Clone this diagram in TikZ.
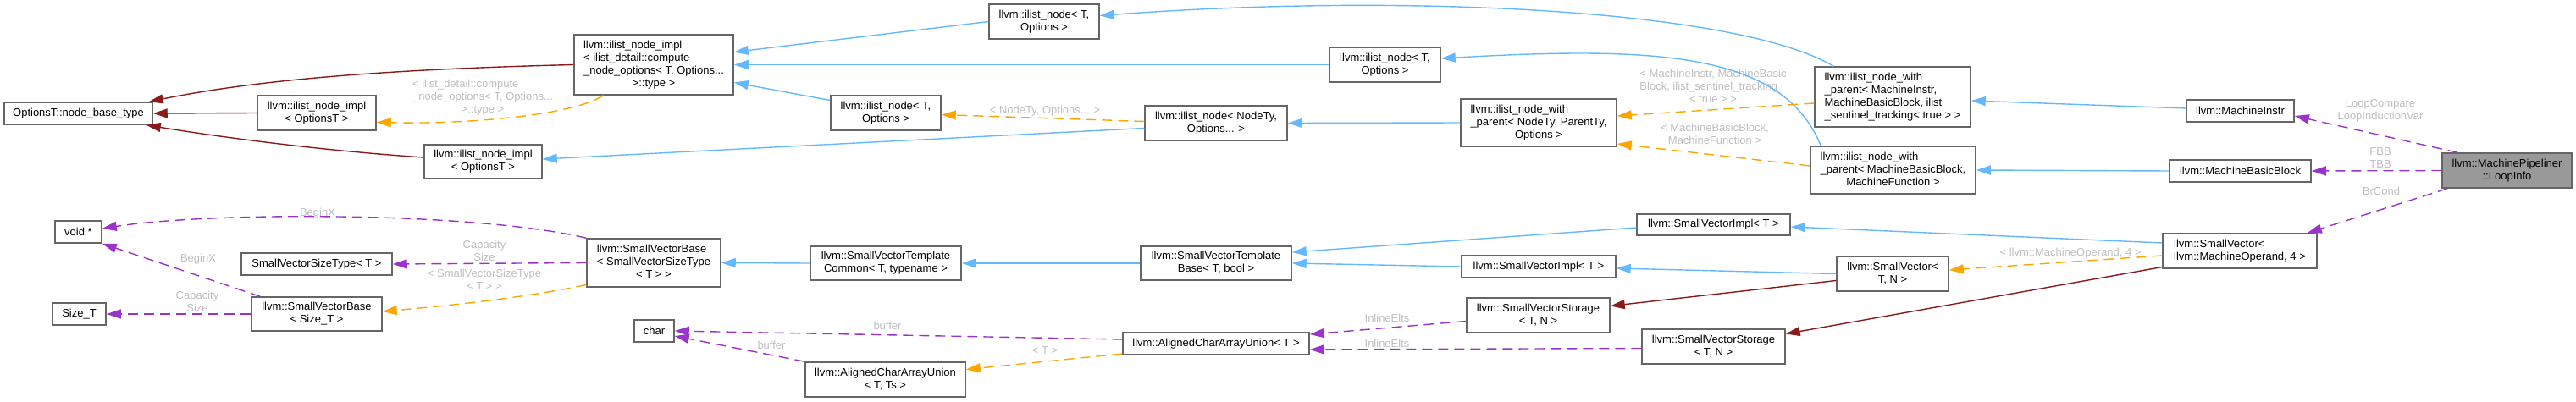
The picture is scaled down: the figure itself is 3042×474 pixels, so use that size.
\documentclass[tikz,border=0pt]{standalone}
\usepackage{fontspec}
\setmainfont{Liberation Sans}
\usetikzlibrary{arrows.meta}

\definecolor{inhblue}{HTML}{63B8FF}
\definecolor{privred}{HTML}{8B1A1A}
\definecolor{tplorange}{HTML}{FFA500}
\definecolor{usepurple}{HTML}{9A32CD}
\definecolor{boxgray}{HTML}{666666}
\definecolor{labelgray}{HTML}{BEBEBE}
\definecolor{mainfill}{HTML}{999999}

% lines left aligned, last line centred
\newcommand{\dxlabel}[2]{\begin{tabular}{@{}l@{}}#1\\\multicolumn{1}{@{}c@{}}{#2}\end{tabular}}

\begin{document}
\begin{tikzpicture}[x=1pt, y=-1pt, >={Triangle[length=17pt,width=11pt]},
    classbox/.style={draw=boxgray, fill=white, line width=1.5pt, inner sep=2pt, font=\fontsize{13}{15}\selectfont},
    mainbox/.style={classbox, fill=mainfill},
    edgelabel/.style={text=labelgray, inner sep=0pt, align=center, font=\fontsize{13}{15}\selectfont},
    pubinh/.style={->, draw=inhblue, line width=1.4pt},
    privinh/.style={->, draw=privred, line width=1.4pt},
    tmplinst/.style={->, draw=tplorange, line width=1.4pt, dash pattern=on 12pt off 7pt},
    memberuse/.style={->, draw=usepurple, line width=1.4pt, dash pattern=on 12pt off 7pt}]
        \useasboundingbox (0,0) rectangle (3042,474);
        % ==== ILIST PART ====
        \node[classbox, minimum width=175pt, minimum height=26pt] (optbase) at (92.5,134) {OptionsT::node\_base\_type};
        \node[classbox, minimum width=140pt, minimum height=41pt] (implmid) at (374,133.5) {\dxlabel{llvm::ilist\_node\_impl}{< OptionsT >}};
        \node[classbox, minimum width=139pt, minimum height=40pt] (impllow) at (570.5,191) {\dxlabel{llvm::ilist\_node\_impl}{< OptionsT >}};
        \node[classbox, minimum width=188pt, minimum height=71pt] (implbig) at (772,76.5) {\dxlabel{llvm::ilist\_node\_impl\\< ilist\_detail::compute\\\_node\_options< T, Options...}{>::type >}};
        \node[classbox, minimum width=130pt, minimum height=41pt] (nodelow) at (1046,133.5) {\dxlabel{llvm::ilist\_node< T,}{Options >}};
        \node[classbox, minimum width=130pt, minimum height=41pt] (nodetop) at (1233,25.5) {\dxlabel{llvm::ilist\_node< T,}{Options >}};
        \node[classbox, minimum width=168pt, minimum height=41pt] (nodety) at (1436,145.5) {\dxlabel{llvm::ilist\_node< NodeTy,}{Options... >}};
        \node[classbox, minimum width=131pt, minimum height=41pt] (nodemid) at (1635.5,76.5) {\dxlabel{llvm::ilist\_node< T,}{Options >}};
        \node[classbox, minimum width=184pt, minimum height=56pt] (withpar) at (1817,145) {\dxlabel{llvm::ilist\_node\_with\\\_parent< NodeTy, ParentTy,}{Options >}};
        \node[classbox, minimum width=184pt, minimum height=71pt] (withparmi) at (2235,114.5) {\dxlabel{llvm::ilist\_node\_with\\\_parent< MachineInstr,\\ MachineBasicBlock, ilist}{\_sentinel\_tracking< true > >}};
        \node[classbox, minimum width=195pt, minimum height=56pt] (withparmbb) at (2235.5,201) {\dxlabel{llvm::ilist\_node\_with\\\_parent< MachineBasicBlock,}{MachineFunction >}};
        \node[classbox, minimum width=127pt, minimum height=26pt] (minstr) at (2645.5,131) {llvm::MachineInstr};
        \node[classbox, minimum width=167pt, minimum height=26pt] (mbb) at (2645.5,202) {llvm::MachineBasicBlock};
        \node[mainbox, minimum width=153pt, minimum height=41pt] (loopinfo) at (2960.5,201.5) {\dxlabel{llvm::MachinePipeliner}{::LoopInfo}};
        % ==== SMALLVECTOR PART ====
        \node[classbox, minimum width=55pt, minimum height=26pt] (voidptr) at (92.5,274) {void *};
        \node[classbox, minimum width=63pt, minimum height=26pt] (sizet) at (93.5,371) {Size\_T};
        \node[classbox, minimum width=178pt, minimum height=26pt] (sizetype) at (374,312) {SmallVectorSizeType< T >};
        \node[classbox, minimum width=154pt, minimum height=40pt] (vecbasesz) at (374,371) {\dxlabel{llvm::SmallVectorBase}{< Size\_T >}};
        \node[classbox, minimum width=158pt, minimum height=57pt] (vecbase) at (772,310.5) {\dxlabel{llvm::SmallVectorBase\\< SmallVectorSizeType}{< T > >}};
        \node[classbox, minimum width=47pt, minimum height=26pt] (charnode) at (772.5,391) {char};
        \node[classbox, minimum width=178pt, minimum height=40pt] (vtcommon) at (1046,311) {\dxlabel{llvm::SmallVectorTemplate}{Common< T, typename >}};
        \node[classbox, minimum width=189pt, minimum height=41pt] (acuts) at (1045.5,448.5) {\dxlabel{llvm::AlignedCharArrayUnion}{< T, Ts >}};
        \node[classbox, minimum width=178pt, minimum height=40pt] (vtbase) at (1436,311) {\dxlabel{llvm::SmallVectorTemplate}{Base< T, bool >}};
        \node[classbox, minimum width=220pt, minimum height=26pt] (acu) at (1436,406) {llvm::AlignedCharArrayUnion< T >};
        \node[classbox, minimum width=182pt, minimum height=26pt] (vimpllow) at (1817,315) {llvm::SmallVectorImpl< T >};
        \node[classbox, minimum width=169pt, minimum height=41pt] (vstorup) at (1816.5,372.5) {\dxlabel{llvm::SmallVectorStorage}{< T, N >}};
        \node[classbox, minimum width=181pt, minimum height=25pt] (vimplup) at (2023.5,265.5) {llvm::SmallVectorImpl< T >};
        \node[classbox, minimum width=169pt, minimum height=41pt] (vstorlow) at (2023.5,409.5) {\dxlabel{llvm::SmallVectorStorage}{< T, N >}};
        \node[classbox, minimum width=132pt, minimum height=41pt] (vecsmall) at (2235,323.5) {\dxlabel{llvm::SmallVector<}{T, N >}};
        \node[classbox, minimum width=182pt, minimum height=41pt] (vecmo) at (2645,296.5) {\dxlabel{llvm::SmallVector<}{llvm::MachineOperand, 4 >}};
        % ==== EDGE LABELS ====
        \node[edgelabel] (lcompute) at (570,115) {\dxlabel{< ilist\_detail::compute\\\_node\_options< T, Options...}{>::type >}};
        \node[edgelabel] (lnodety) at (1234,131) {< NodeTy, Options... >};
        \node[edgelabel] (lmiparent) at (2023,103) {\dxlabel{< MachineInstr, MachineBasic\\Block, ilist\_sentinel\_tracking}{< true > >}};
        \node[edgelabel] (lmbbparent) at (2025,159.5) {\dxlabel{< MachineBasicBlock,}{MachineFunction >}};
        \node[edgelabel] (lloopcmp) at (2811,131) {LoopCompare\\LoopInductionVar};
        \node[edgelabel] (lbb) at (2811,187) {FBB\\TBB};
        \node[edgelabel] (lbrcond) at (2812,226) {BrCond};
        \node[edgelabel] (lmoper) at (2445,299) {< llvm::MachineOperand, 4 >};
        \node[edgelabel] (linlineup) at (1638,376) {InlineElts};
        \node[edgelabel] (linlinelow) at (1638,406) {InlineElts};
        \node[edgelabel] (lbufup) at (1048,385) {buffer};
        \node[edgelabel] (lbuflow) at (911,408) {buffer};
        \node[edgelabel] (lacut) at (1234,414) {< T >};
        \node[edgelabel] (lbeginup) at (375,252) {BeginX};
        \node[edgelabel] (lcapup) at (572,296) {Capacity\\Size};
        \node[edgelabel] (lsizetype) at (572,331.5) {\dxlabel{< SmallVectorSizeType}{< T > >}};
        \node[edgelabel] (lbeginlow) at (234,306) {BeginX};
        \node[edgelabel] (lcaplow) at (233,356) {Capacity\\Size};
        % ==== CONNECTORS, ILIST ====
        \draw[privinh] (implbig.west) .. controls (450,82) and (300,95) .. ([xshift=-5pt]optbase.north east);
        \draw[privinh] (implmid.west) -- (optbase.east);
        \draw[privinh] ([yshift=5pt]impllow.west) .. controls (380,178) and (260,162) .. ([xshift=-8pt]optbase.south east);
        \draw[tmplinst] ([xshift=35pt]implbig.south west) .. controls (680,135) and (560,147) .. ([yshift=-11pt]implmid.east);
        \draw[pubinh] (nodetop.west) -- ([yshift=15pt]implbig.east);
        \draw[pubinh] (nodemid.west) -- (implbig.east);
        \draw[pubinh] ([yshift=15pt]nodelow.west) -- ([yshift=-21pt]implbig.east);
        \draw[tmplinst] ([yshift=2pt]nodety.west) -- ([yshift=-2pt]nodelow.east);
        \draw[pubinh] ([yshift=-6pt]nodety.west) -- ([yshift=3pt]impllow.east);
        \draw[pubinh] (withpar.west) -- (nodety.east);
        \draw[pubinh] ([xshift=23pt]withparmi.north west) .. controls (2050,10) and (1650,-8) .. ([yshift=7pt]nodetop.east);
        \draw[pubinh] ([xshift=13pt]withparmbb.north west) .. controls (2105,60) and (1950,55) .. ([yshift=7.5pt]nodemid.east);
        \draw[tmplinst] ([yshift=-7.5pt]withparmi.west) -- ([yshift=8pt]withpar.east);
        \draw[tmplinst] ([yshift=5pt]withparmbb.west) -- ([yshift=-25pt]withpar.east);
        \draw[pubinh] ([yshift=3pt]minstr.west) -- ([yshift=-4.5pt]withparmi.east);
        \draw[pubinh] (mbb.west) -- (withparmbb.east);
        \draw[memberuse] ([xshift=19pt]loopinfo.north west) -- ([yshift=-6pt]minstr.east);
        \draw[memberuse] (loopinfo.west) -- (mbb.east);
        \draw[memberuse] ([xshift=7pt]loopinfo.south west) -- ([xshift=-12pt]vecmo.north east);
        % ==== CONNECTORS, SMALLVECTOR ====
        \draw[pubinh] ([yshift=9.5pt]vecmo.west) -- ([yshift=-2.5pt]vimplup.east);
        \draw[tmplinst] ([yshift=-5.5pt]vecmo.west) -- ([yshift=4.5pt]vecsmall.east);
        \draw[privinh] ([yshift=-19pt]vecmo.west) -- ([yshift=15pt]vstorlow.east);
        \draw[pubinh] (vecsmall.west) -- ([yshift=-2pt]vimpllow.east);
        \draw[privinh] ([yshift=-8pt]vecsmall.west) -- ([yshift=11pt]vstorup.east);
        \draw[pubinh] ([yshift=-3.5pt]vimplup.west) -- ([yshift=13pt]vtbase.east);
        \draw[pubinh] (vimpllow.west) -- (vtbase.east);
        \draw[pubinh] (vtbase.west) -- (vtcommon.east);
        \draw[pubinh] (vtcommon.west) -- (vecbase.east);
        \draw[memberuse] (vecbase.north west) .. controls (560,250) and (250,250) .. ([yshift=4pt]voidptr.east);
        \draw[memberuse] (vecbase.west) -- (sizetype.east);
        \draw[tmplinst] ([yshift=-26pt]vecbase.west) .. controls (620,352) and (520,362) .. ([yshift=3pt]vecbasesz.east);
        \draw[memberuse] ([xshift=11pt]vecbasesz.north west) -- (voidptr.south east);
        \draw[memberuse] (vecbasesz.west) -- (sizet.east);
        \draw[memberuse] ([yshift=-7pt]vstorup.west) -- ([yshift=11pt]acu.east);
        \draw[memberuse] ([yshift=-2pt]vstorlow.west) -- ([yshift=-7pt]acu.east);
        \draw[memberuse] ([yshift=5pt]acu.west) -- (charnode.east);
        \draw[tmplinst] ([yshift=-12pt]acu.west) -- ([yshift=12pt]acuts.east);
        \draw[memberuse] (acuts.north west) -- ([yshift=-6pt]charnode.east);
\end{tikzpicture}
\end{document}
